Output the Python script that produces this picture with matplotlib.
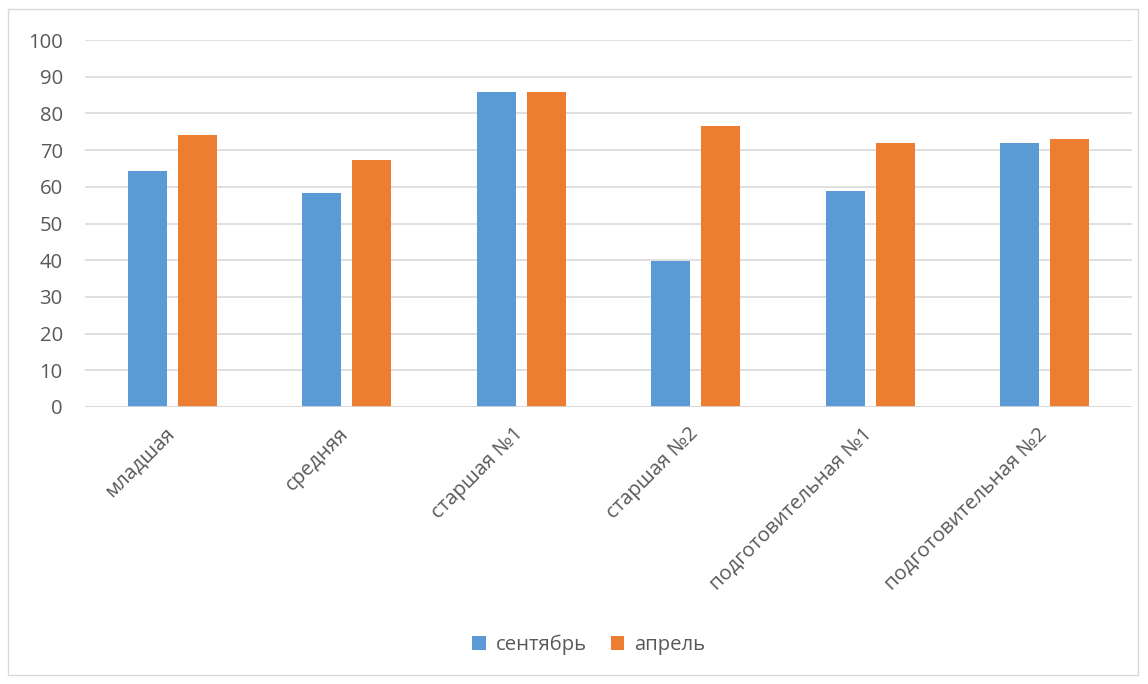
import matplotlib
matplotlib.use("Agg")
import matplotlib.pyplot as plt
import numpy as np
from matplotlib.patches import Rectangle
from matplotlib.transforms import ScaledTranslation

categories = ["младшая", "средняя", "старшая №1", "старшая №2",
              "подготовительная №1", "подготовительная №2"]
september = [64.4, 58.4, 85.8, 39.9, 58.9, 72.0]
april = [74.0, 67.4, 85.9, 76.5, 72.0, 73.0]
yticks = [0, 10, 20, 30, 40, 50, 60, 70, 80, 90, 100]
series_names = ["сентябрь", "апрель"]

plt.rcParams['font.family'] = ['Open Sans', 'DejaVu Sans']
BLUE = "#5B9BD5"
ORANGE = "#ED7D31"
TXT = "#595959"
FS = 14.6

fig = plt.figure(figsize=(11.48, 6.84), dpi=100)
fig.patches.append(Rectangle((8/1148, 9/684), 1130/1148, 666/684, transform=fig.transFigure,
                             fill=False, edgecolor="#D9D9D9", linewidth=1))
ax = fig.add_axes([85/1148, 1-407/684, (1132-85)/1148, (407-40)/684])

x = np.arange(len(categories))
w = 0.224
ax.bar(x - 0.143, september, w, color=BLUE, label=series_names[0], zorder=3)
ax.bar(x + 0.143, april, w, color=ORANGE, label=series_names[1], zorder=3)

ax.set_xlim(-0.5, len(categories) - 0.5)
ax.set_ylim(0, 100)
ax.set_yticks(yticks)
ax.set_yticklabels([str(t) for t in yticks])
ax.yaxis.grid(True, color="#D9D9D9", linewidth=1.2, zorder=0)
for s in ax.spines.values():
    s.set_visible(False)
ax.axhline(0, color="#D9D9D9", linewidth=1.2, zorder=4)
ax.tick_params(axis='y', length=0, pad=16, labelsize=FS, labelcolor=TXT)
ax.tick_params(axis='x', length=0, pad=12, labelsize=FS, labelcolor=TXT)
ax.set_xticks(x)
ax.set_xticklabels(categories, rotation=45, ha='right', rotation_mode='anchor')
for lbl in ax.get_xticklabels():
    lbl.set_transform(lbl.get_transform() + ScaledTranslation(-8/100, 0, fig.dpi_scale_trans))

leg = fig.legend(loc='center', bbox_to_anchor=(589/1148, 1-645/684), ncol=2, frameon=False,
                 fontsize=FS, handlelength=0.65, handleheight=0.65, handletextpad=0.5,
                 columnspacing=1.2, labelcolor=TXT)

fig.savefig("out.png", dpi=100, facecolor="white")
